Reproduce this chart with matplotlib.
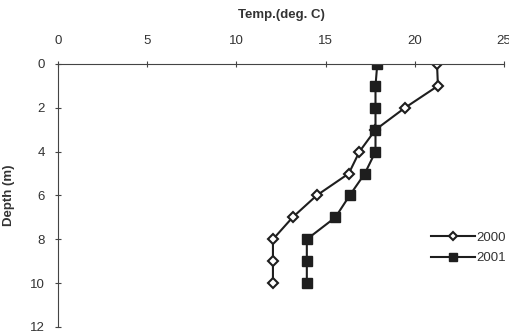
import numpy as np
import matplotlib.pyplot as plt

plt.rcParams['font.family'] = ['Liberation Sans', 'DejaVu Sans']

depth = [0, 1, 2, 3, 4, 5, 6, 7, 8, 9, 10]
temp_2000 = [21.25, 21.3, 19.45, 17.8, 16.9, 16.3, 14.5, 13.15, 12.05, 12.05, 12.05]
temp_2001 = [17.9, 17.8, 17.8, 17.8, 17.8, 17.2, 16.35, 15.55, 13.95, 13.95, 13.95]

fig = plt.figure(figsize=(5.09, 3.35), dpi=100)
ax = fig.add_axes([0.114, 0.024, 0.876, 0.785])

ln = '#1e1e1e'
ax.plot(temp_2000, depth, color=ln, lw=1.5, marker='D', ms=5,
        mfc='white', mec=ln, mew=1.5, label='2000')
ax.plot(temp_2001, depth, color=ln, lw=1.5, marker='s', ms=6.5,
        mfc=ln, mec=ln, label='2001')

ax.set_xlim(0, 25)
ax.set_ylim(12, 0)
ax.set_xticks(np.arange(0, 26, 5))
ax.set_yticks(np.arange(0, 13, 2))
ax.xaxis.tick_top()
ax.xaxis.set_label_position('top')
for s in ['right', 'bottom']:
    ax.spines[s].set_visible(False)
for s in ['left', 'top']:
    ax.spines[s].set_color('#444444')
    ax.spines[s].set_linewidth(0.8)
ax.tick_params(direction='inout', length=5, width=0.8, color='#444444',
               labelsize=9.5, labelcolor='#333333')
ax.tick_params(axis='x', pad=10)
ax.tick_params(axis='y', pad=7)

ax.set_xlabel('Temp.(deg. C)', fontsize=9.5, fontweight='bold', color='#333333', labelpad=12)
ax.set_ylabel('Depth (m)', fontsize=9.5, fontweight='bold', color='#333333', labelpad=11)

ax.legend(loc='center left', bbox_to_anchor=(0.81, 0.3), frameon=False,
          fontsize=9.5, handlelength=3.3, handletextpad=0.1, labelspacing=0.6,
          labelcolor='#333333', markerscale=0.9)

fig.savefig('out.png', dpi=100)
